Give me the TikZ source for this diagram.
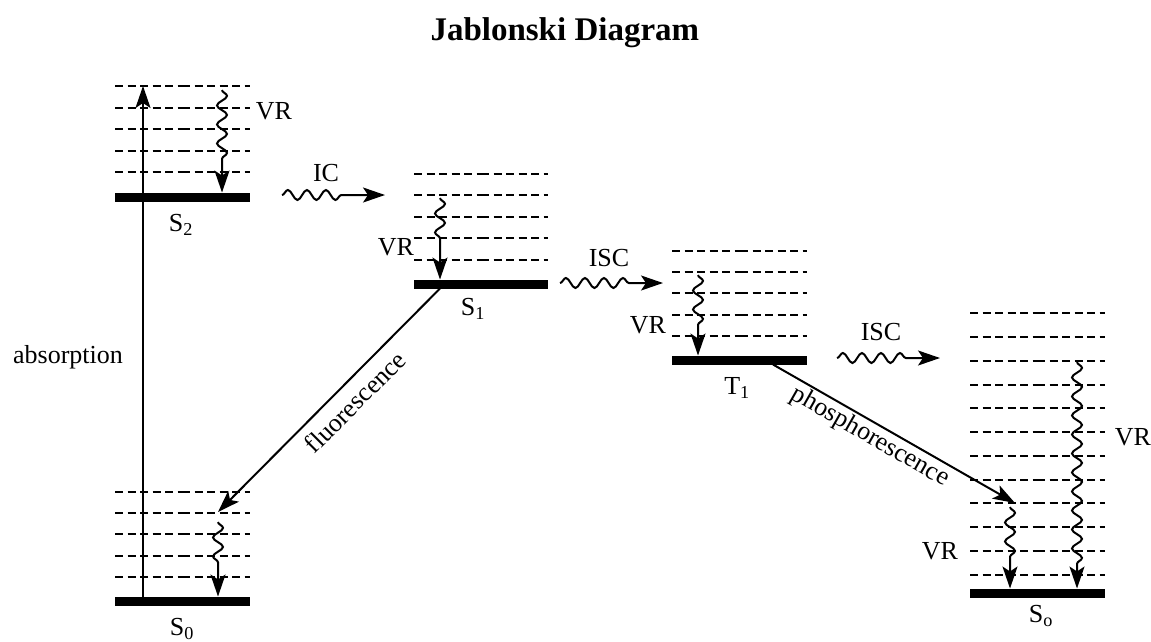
\documentclass[tikz,border=0pt]{standalone}
\usepackage{fontspec}
\setmainfont{Liberation Serif}
\usepackage{tikz}
\usetikzlibrary{arrows.meta,decorations.pathmorphing}

\begin{document}
\begin{tikzpicture}[x=1pt,y=-1pt,
    every node/.style={font=\fontsize{26}{30}\selectfont},
    level/.style={dash pattern=on 8pt off 4.5pt,line width=2pt},
    bar/.style={line width=9pt},
    photon/.style={line width=2pt,-{Stealth[length=22pt,width=15pt,inset=5pt]}},
    wavy/.style={photon,decorate,decoration={snake,segment length=19pt,amplitude=5pt,post length=#1}},
    wavy/.default=28pt]
  \useasboundingbox (0,0) rectangle (1151,641);

  % Title
  \node[anchor=base west,font=\fontsize{33}{38}\selectfont\bfseries] (title) at (427,40) {Jablonski Diagram};

  % Vibrational levels (two halves, as in the original)
  \foreach \y in {86,107.5,129,150.5,172} {
    \draw[level] (115,\y) -- (182,\y); \draw[level] (182,\y) -- (250,\y);
  }
  \foreach \y in {174,195,216.5,238,259.5} {
    \draw[level] (414,\y) -- (481,\y); \draw[level] (481,\y) -- (548,\y);
  }
  \foreach \y in {251,272,293,314.5,336} {
    \draw[level] (672,\y) -- (740,\y); \draw[level] (740,\y) -- (807,\y);
  }
  \foreach \y in {492,513,534,555.5,577} {
    \draw[level] (115,\y) -- (182,\y); \draw[level] (182,\y) -- (250,\y);
  }
  \foreach \y in {313,337,361,385,408,432,456,480,503,527,551,575} {
    \draw[level] (970,\y) -- (1037,\y); \draw[level] (1037,\y) -- (1105,\y);
  }

  % Electronic ground levels
  \draw[bar] (115,197) -- (250,197);
  \draw[bar] (414,284) -- (548,284);
  \draw[bar] (672,360) -- (807,360);
  \draw[bar] (115,601) -- (250,601);
  \draw[bar] (970,593) -- (1105,593);

  % State labels
  \node (s2) at (181,225) {S\textsubscript{2}};
  \node (s1) at (473,309) {S\textsubscript{1}};
  \node (t1) at (737,388) {T\textsubscript{1}};
  \node (s0) at (182,629) {S\textsubscript{0}};
  \node (so) at (1041,616) {S\textsubscript{o}};

  % End points of the transitions
  \coordinate (absA) at (143,601);  \coordinate (absB) at (143,86);
  \coordinate (vrA) at (222,90);    \coordinate (vrB) at (222,192.5);
  \coordinate (icA) at (282,195);   \coordinate (icB) at (385,195);
  \coordinate (vrC) at (440,198);   \coordinate (vrD) at (440,279.5);
  \coordinate (iscA) at (560,283);  \coordinate (iscB) at (663,283);
  \coordinate (vrE) at (698,275);   \coordinate (vrF) at (698,355.5);
  \coordinate (iscC) at (837,358);  \coordinate (iscD) at (940,358);
  \coordinate (flA) at (440,288.5); \coordinate (flB) at (218,512);
  \coordinate (vrG) at (218,522);   \coordinate (vrH) at (218,596.5);
  \coordinate (phA) at (773,364.5); \coordinate (phB) at (1015,503);
  \coordinate (vrI) at (1010,507);  \coordinate (vrJ) at (1010,588.5);
  \coordinate (vrK) at (1077,362);  \coordinate (vrL) at (1077,588.5);

  % Transitions
  \draw[photon] (absA) -- (absB);
  \draw[wavy] (vrA) -- (vrB);
  \draw[wavy=35pt] (icA) -- (icB);
  \draw[wavy=32pt] (vrC) -- (vrD);
  \draw[wavy=30pt] (iscA) -- (iscB);
  \draw[wavy=30pt] (vrE) -- (vrF);
  \draw[wavy=30pt] (iscC) -- (iscD);
  \draw[photon] (flA) -- (flB);
  \draw[wavy] (vrG) -- (vrH);
  \draw[photon] (phA) -- (phB);
  \draw[wavy] (vrI) -- (vrJ);
  \draw[wavy=22pt] (vrK) -- (vrL);

  % Transition labels
  \node (absorption) at (68,357) {absorption};
  \node (vr1) at (274,111) {VR};
  \node (ic) at (326,173) {IC};
  \node (vr2) at (396,247) {VR};
  \node (isc1) at (609,258) {ISC};
  \node (vr3) at (648,325) {VR};
  \node (isc2) at (881,332) {ISC};
  \node[rotate=45] (fluor) at (355,402) {fluorescence};
  \node[rotate=-29.7] (phos) at (870,437) {phosphorescence};
  \node (vr4) at (940,551) {VR};
  \node (vr5) at (1133,437) {VR};
\end{tikzpicture}
\end{document}
